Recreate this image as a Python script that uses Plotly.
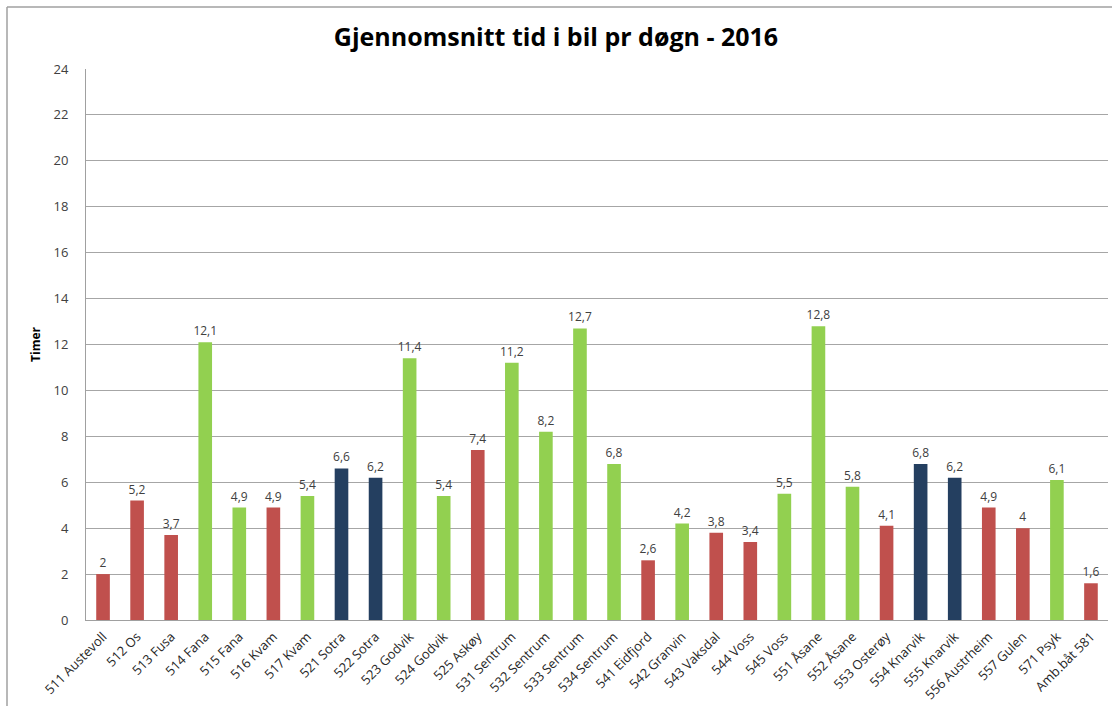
import plotly.graph_objects as go

categories = ["511 Austevoll", "512 Os", "513 Fusa", "514 Fana", "515 Fana", "516 Kvam",
              "517 Kvam", "521 Sotra", "522 Sotra", "523 Godvik", "524 Godvik", "525 Askøy",
              "531 Sentrum", "532 Sentrum", "533 Sentrum", "534 Sentrum", "541 Eidfjord",
              "542 Granvin", "543 Vaksdal", "544 Voss", "545 Voss", "551 Åsane", "552 Åsane",
              "553 Osterøy", "554 Knarvik", "555 Knarvik", "556 Austrheim", "557 Gulen",
              "571 Psyk", "Amb.båt 581"]
values = [2, 5.2, 3.7, 12.1, 4.9, 4.9, 5.4, 6.6, 6.2, 11.4, 5.4, 7.4, 11.2, 8.2, 12.7, 6.8,
          2.6, 4.2, 3.8, 3.4, 5.5, 12.8, 5.8, 4.1, 6.8, 6.2, 4.9, 4, 6.1, 1.6]
groups = ["r", "r", "r", "g", "g", "r", "g", "b", "b", "g", "g", "r", "g", "g", "g", "g",
          "r", "g", "r", "r", "g", "g", "g", "r", "b", "b", "r", "r", "g", "r"]
palette = {"r": "#C0504D", "g": "#92D050", "b": "#243F60"}
y_ticks = list(range(0, 25, 2))

colors = [palette[g] for g in groups]
labels = [f"{v:g}".replace(".", ",") for v in values]

fig = go.Figure(go.Bar(
    x=categories, y=values, marker=dict(color=colors, line=dict(width=0)),
    text=labels, textposition="outside", cliponaxis=False, constraintext="none",
    outsidetextfont=dict(family="Open Sans, sans-serif", size=12, color="#404040"),
    textfont=dict(family="Open Sans, sans-serif", size=12, color="#404040"),
))

W, H = 1112, 706
ml, mr, mt, mb = 86, 4, 69, 86
fig.update_layout(
    width=W, height=H,
    margin=dict(l=ml, r=mr, t=mt, b=mb, autoexpand=False),
    paper_bgcolor="white", plot_bgcolor="white",
    bargap=0.6, showlegend=False,
    title=dict(text="<b>Gjennomsnitt tid i bil pr døgn - 2016</b>", x=0.5, xanchor="center",
               y=1 - 37 / H, yanchor="middle",
               font=dict(family="Open Sans, sans-serif", size=25, color="black")),
    font=dict(family="Open Sans, sans-serif", color="#404040"),
    xaxis=dict(tickangle=-45, tickfont=dict(size=13, color="#262626"), showline=True,
               linecolor="#A0A0A0", linewidth=1, ticks="", showgrid=False, automargin=False,
               ticklabelstandoff=3),
    yaxis=dict(range=[0, 24], tickvals=y_ticks, showgrid=True, gridcolor="#A6A6A6",
               gridwidth=1, showline=True, linecolor="#A0A0A0", linewidth=1,
               ticks="", ticklabelstandoff=14, zeroline=False, automargin=False,
               tickfont=dict(size=13, color="#404040"),
               title=dict(text="<b>Timer</b>", standoff=10,
                          font=dict(size=12, color="black"))),
)

pw = W - ml - mr
ph = H - mt - mb
def px(x):
    return (x - ml) / pw
def py(y):
    return (H - mb - y) / ph

fig.add_shape(type="line", xref="paper", yref="paper", x0=px(7), x1=px(1112), y0=py(7), y1=py(7),
              line=dict(color="#A0A0A0", width=1.5))
fig.add_shape(type="line", xref="paper", yref="paper", x0=px(7), x1=px(7), y0=py(7), y1=py(706),
              line=dict(color="#A0A0A0", width=1.5))

fig.write_html("out.html", config={"displayModeBar": False},
               post_script="document.body.style.margin='0';document.body.style.overflow='hidden';")
